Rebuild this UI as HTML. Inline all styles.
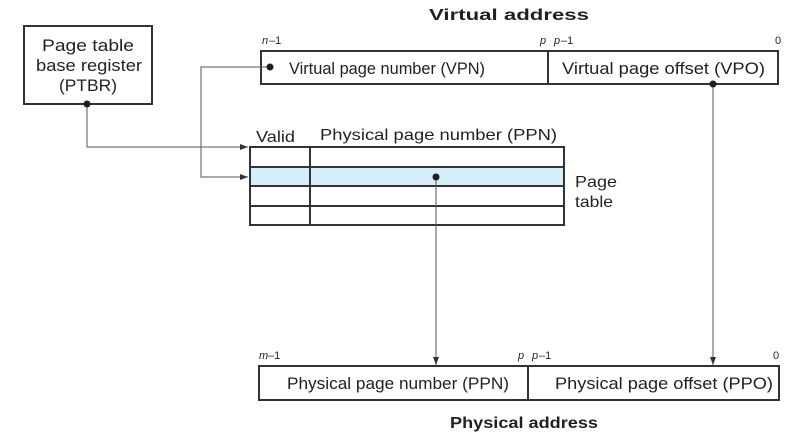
<!DOCTYPE html>
<html><head><meta charset="utf-8"><style>
html,body{margin:0;padding:0;background:#fff;}
svg{display:block;}
text{font-family:"Liberation Sans",Arial,sans-serif;fill:#231f20;}
</style></head><body>
<svg width="800" height="438" viewBox="0 0 800 438" xmlns="http://www.w3.org/2000/svg">
<defs><marker id="a" markerWidth="8" markerHeight="6" refX="8" refY="3" orient="auto" markerUnits="userSpaceOnUse"><path d="M0,0 L8,3 L0,6 z" fill="#333"/></marker></defs>
<!-- PTBR -->
<rect x="24" y="26" width="128" height="78" fill="#fff" stroke="#333" stroke-width="2"/>
<text x="42" y="51" font-size="17" textLength="92" lengthAdjust="spacingAndGlyphs">Page table</text>
<text x="36" y="71" font-size="17" textLength="106" lengthAdjust="spacingAndGlyphs">base register</text>
<text x="59" y="91" font-size="17" textLength="58" lengthAdjust="spacingAndGlyphs">(PTBR)</text>
<!-- Virtual address -->
<text x="429" y="20" font-size="16" font-weight="bold" textLength="160" lengthAdjust="spacingAndGlyphs">Virtual address</text>
<text x="262" y="44" font-size="11" font-style="italic">n</text><text x="269" y="44" font-size="11">–1</text>
<text x="540" y="44" font-size="11" font-style="italic">p</text>
<text x="554" y="44" font-size="11" font-style="italic">p</text><text x="561" y="44" font-size="11">–1</text>
<text x="775" y="44" font-size="11">0</text>
<rect x="261" y="51" width="517" height="33" fill="#fff" stroke="#333" stroke-width="2"/>
<line x1="548" y1="51" x2="548" y2="84" stroke="#333" stroke-width="2"/>
<text x="289" y="74" font-size="17" textLength="196" lengthAdjust="spacingAndGlyphs">Virtual page number (VPN)</text>
<text x="562" y="74" font-size="17" textLength="203" lengthAdjust="spacingAndGlyphs">Virtual page offset (VPO)</text>
<!-- Page table -->
<text x="256" y="142" font-size="16" textLength="39" lengthAdjust="spacingAndGlyphs">Valid</text>
<text x="320" y="140" font-size="16" textLength="237" lengthAdjust="spacingAndGlyphs">Physical page number (PPN)</text>
<rect x="250" y="167" width="314" height="19" fill="#d4eff9"/>
<rect x="250" y="147" width="314" height="78" fill="none" stroke="#333" stroke-width="2"/>
<line x1="250" y1="167" x2="564" y2="167" stroke="#333" stroke-width="2"/>
<line x1="250" y1="186" x2="564" y2="186" stroke="#333" stroke-width="2"/>
<line x1="250" y1="206" x2="564" y2="206" stroke="#333" stroke-width="2"/>
<line x1="310" y1="147" x2="310" y2="225" stroke="#333" stroke-width="2"/>
<text x="575" y="187" font-size="16" textLength="42" lengthAdjust="spacingAndGlyphs">Page</text>
<text x="575" y="207" font-size="16" textLength="38" lengthAdjust="spacingAndGlyphs">table</text>
<!-- connectors -->
<path d="M87,104 V147 H248" fill="none" stroke="#555" stroke-width="1" marker-end="url(#a)"/>
<path d="M270,67 H201 V177 H248" fill="none" stroke="#555" stroke-width="1" marker-end="url(#a)"/>
<path d="M436,177 V365" fill="none" stroke="#555" stroke-width="1" marker-end="url(#a)"/>
<path d="M713,84 V365" fill="none" stroke="#555" stroke-width="1" marker-end="url(#a)"/>
<circle cx="87" cy="104" r="3.5" fill="#231f20"/>
<circle cx="270" cy="67" r="3.5" fill="#231f20"/>
<circle cx="436" cy="177" r="3.5" fill="#231f20"/>
<circle cx="713" cy="84" r="3.5" fill="#231f20"/>
<!-- Physical address -->
<text x="259" y="359" font-size="11" font-style="italic">m</text><text x="268" y="359" font-size="11">–1</text>
<text x="518" y="359" font-size="11" font-style="italic">p</text>
<text x="532" y="359" font-size="11" font-style="italic">p</text><text x="539" y="359" font-size="11">–1</text>
<text x="773" y="359" font-size="11">0</text>
<rect x="259" y="366" width="520" height="34" fill="#fff" stroke="#333" stroke-width="2"/>
<line x1="528" y1="366" x2="528" y2="400" stroke="#333" stroke-width="2"/>
<text x="287" y="389" font-size="17" textLength="222" lengthAdjust="spacingAndGlyphs">Physical page number (PPN)</text>
<text x="555" y="389" font-size="17" textLength="218" lengthAdjust="spacingAndGlyphs">Physical page offset (PPO)</text>
<text x="450" y="428" font-size="16" font-weight="bold" textLength="148" lengthAdjust="spacingAndGlyphs">Physical address</text>
</svg>
</body></html>
